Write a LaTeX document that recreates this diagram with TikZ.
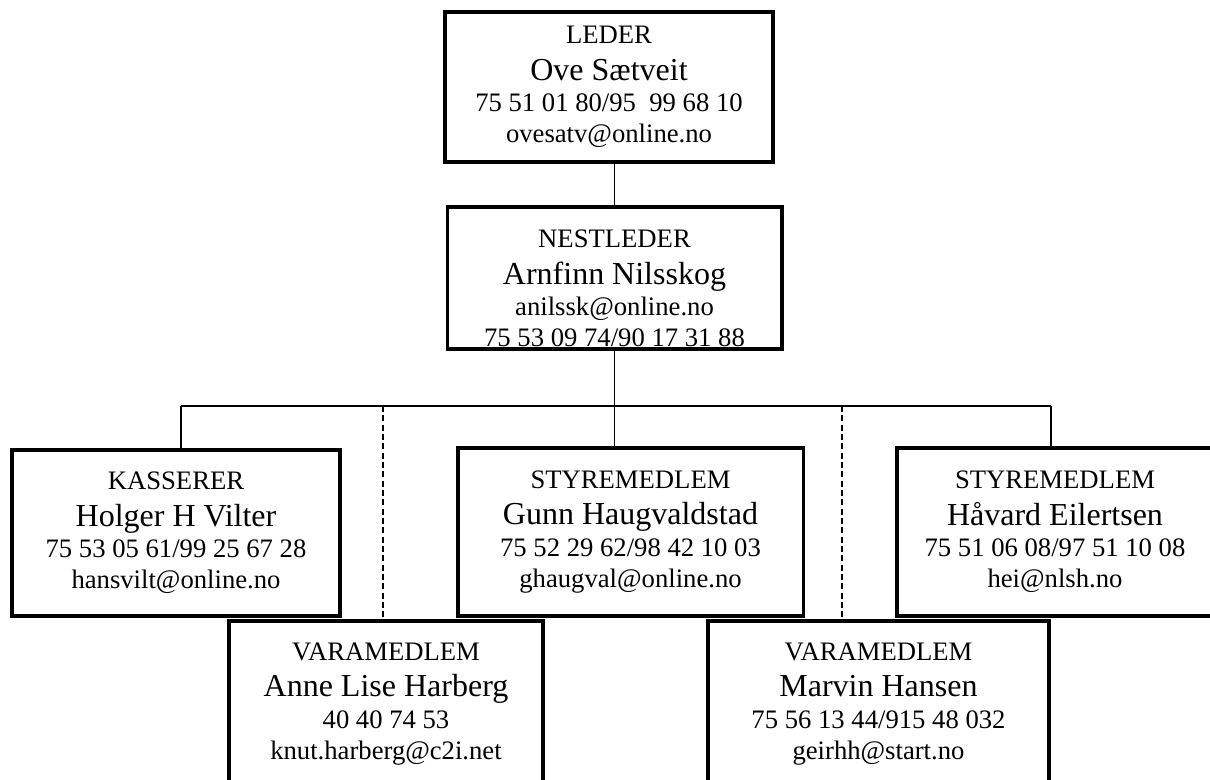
\documentclass[tikz,border=0pt]{standalone}
\usepackage{fontspec}
\setmainfont{Liberation Serif}
\newcommand{\navn}[1]{{\fontsize{24}{24}\selectfont #1}}

\begin{document}
\begin{tikzpicture}[x=0.75pt,y=-0.75pt,
  boks/.style={draw,line width=2.5pt,inner sep=0pt,align=center,font=\fontsize{20}{23.5}\selectfont},
  linje/.style={line width=1.1pt},
  stiplet/.style={line width=1.1pt,dash pattern=on 4.5pt off 2.5pt}]
\useasboundingbox(0,0)rectangle(1210,780);

\node[boks,minimum width=246pt,minimum height=112.5pt](leder)at(609,87){LEDER\\[4pt]\navn{Ove Sætveit}\\75 51 01 80/95~ 99 68 10\\ovesatv@online.no};
\node[boks,minimum width=251pt,minimum height=106.5pt](nest)at(614.5,278){\rule{0pt}{29pt}NESTLEDER\\[4pt]\navn{Arnfinn Nilsskog}\\anilssk@online.no\\75 53 09 74/90 17 31 88};
\node[boks,minimum width=246pt,minimum height=124.5pt](kass)at(176,533){KASSERER\\[4pt]\navn{Holger H Vilter}\\75 53 05 61/99 25 67 28\\hansvilt@online.no};
\node[boks,minimum width=259pt,minimum height=126pt](gunn)at(630.5,532){STYREMEDLEM\\[4pt]\navn{Gunn Haugvaldstad}\\75 52 29 62/98 42 10 03\\ghaugval@online.no};
\node[boks,minimum width=237pt,minimum height=126pt](havard)at(1055,532){STYREMEDLEM\\[4pt]\navn{Håvard Eilertsen}\\75 51 06 08/97 51 10 08\\hei@nlsh.no};
\node[boks,minimum width=235.5pt,minimum height=124.5pt](anne)at(386,704){VARAMEDLEM\\[4pt]\navn{Anne Lise Harberg}\\40 40 74 53\\knut.harberg@c2i.net};
\node[boks,minimum width=255.75pt,minimum height=124.5pt](marvin)at(878.5,704){VARAMEDLEM\\[4pt]\navn{Marvin Hansen}\\75 56 13 44/915 48 032\\geirhh@start.no};

\coordinate(bv)at(181,406);
\coordinate(bh)at(1051,406);
\coordinate(dv)at(383,406);
\coordinate(dh)at(842,406);

\draw[linje](leder.south-|nest.north)--(nest.north);
\draw[linje](nest.south)--(nest.south|-bv);
\draw[linje](bv)--(bh);
\draw[linje](bv)--(bv|-kass.north);
\draw[linje](nest.south|-bv)--(nest.south|-gunn.north);
\draw[linje](bh)--(bh|-havard.north);
\draw[stiplet](dv)--(dv|-anne.north);
\draw[stiplet](dh)--(dh|-marvin.north);

\end{tikzpicture}
\end{document}
